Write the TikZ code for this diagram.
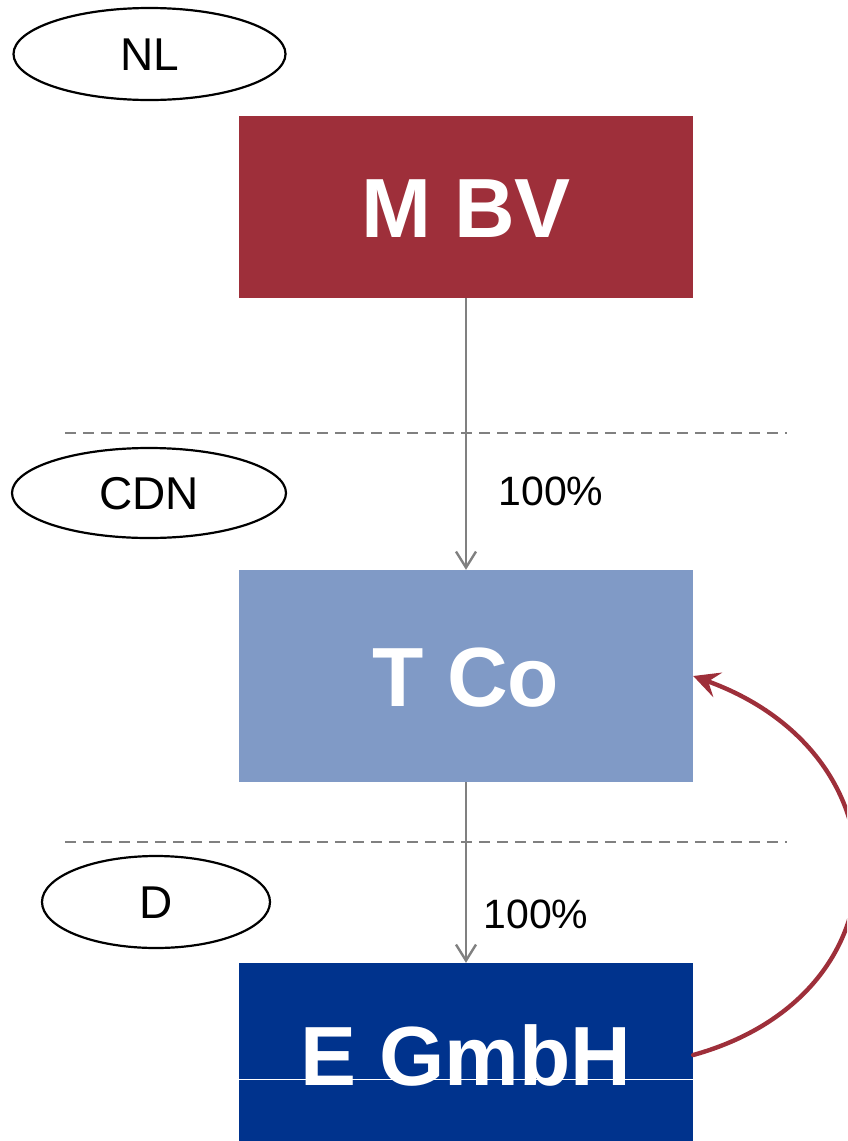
\documentclass[tikz,border=0pt]{standalone}
\usepackage{fontspec}
\setmainfont{Liberation Sans}
\usetikzlibrary{shapes.geometric,arrows.meta}

\definecolor{mbvred}{HTML}{9E2F3A}
\definecolor{tcoblue}{HTML}{809AC6}
\definecolor{gmbhblue}{HTML}{00338D}
\definecolor{linegray}{HTML}{808080}

\tikzset{
  entity/.style={rectangle, draw=none, minimum width=454pt, inner sep=0pt,
    text=white, font=\fontsize{84}{90}\selectfont\bfseries,
    text height=60pt, text depth=0pt},
  country/.style={ellipse, draw=black, line width=2.2pt, inner sep=0pt,
    font=\fontsize{46}{50}\selectfont, text height=33pt, text depth=0pt},
  share/.style={font=\fontsize{41}{45}\selectfont, inner sep=0pt,
    text height=29.5pt, text depth=0pt},
  border/.style={draw=linegray, line width=2.8pt, dash pattern=on 11pt off 7pt},
  holding/.style={draw=linegray, line width=2.4pt, -{Straight Barb[length=16pt,width=20pt]}},
  loan/.style={draw=mbvred, line width=4.4pt, line cap=round,
    -{Stealth[length=26pt,width=26pt,inset=10pt]}}
}

\begin{document}
\begin{tikzpicture}[x=1pt, y=-1pt]
  \useasboundingbox (0,0) rectangle (847,1141);
  \clip (0,0) rectangle (847,1141);

  % jurisdiction separators
  \coordinate (sepAw) at (65,433);
  \coordinate (sepAe) at (787,433);
  \coordinate (sepBw) at (65,842);
  \coordinate (sepBe) at (787,842);
  \draw[border] (sepAw) -- (sepAe);
  \draw[border] (sepBw) -- (sepBe);

  % jurisdictions
  \node[country, minimum width=272pt, minimum height=92pt] (nl)  at (149.5,54) {NL};
  \node[country, minimum width=274pt, minimum height=90pt] (cdn) at (149,493) {CDN};
  \node[country, minimum width=228pt, minimum height=92pt] (de)  at (156,902) {D};

  % entities
  \node[entity, fill=mbvred,   minimum height=182pt] (mbv)  at (466,207)  {M BV};
  \node[entity, fill=tcoblue,  minimum height=212pt] (tco)  at (466,676)  {T Co};
  \node[entity, fill=gmbhblue, minimum height=184pt] (gmbh) at (466,1055) {E GmbH};
  \coordinate (rulew) at (239,1079);
  \coordinate (rulee) at (693,1079);
  \draw[white, line width=1pt] (rulew) -- (rulee);

  % shareholdings
  \draw[holding] (mbv.south) -- (tco.north);
  \draw[holding] (tco.south) -- (gmbh.north);
  \node[share] (pctA) at (551,490.5) {100\%};
  \node[share] (pctB) at (536,913.5) {100\%};

  % upstream flow
  \draw[loan] (gmbh.east) .. controls (909,995) and (909,754) .. (tco.east);
\end{tikzpicture}
\end{document}
